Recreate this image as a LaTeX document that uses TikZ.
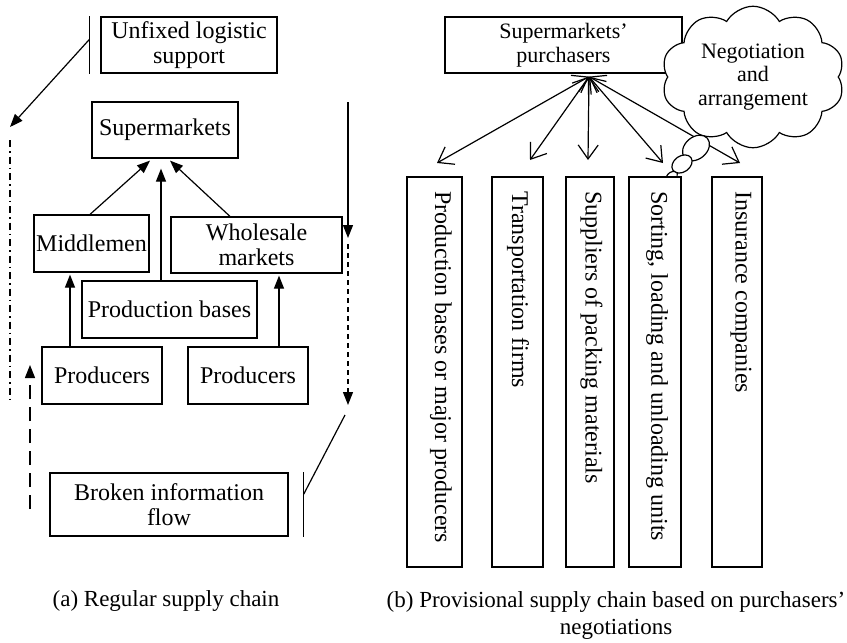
\documentclass[tikz,border=0pt]{standalone}
\usepackage{fontspec}
\setmainfont{Liberation Serif}
\usetikzlibrary{arrows.meta,shapes.symbols,shapes.geometric,calc}

\begin{document}
\begin{tikzpicture}[x=1pt,y=-1pt,
  every node/.style={inner sep=0pt},
  box/.style={draw, line width=1.2pt, fill=white, align=center,
    font=\fontsize{24}{25}\selectfont},
  smalltext/.style={font=\fontsize{22}{23.5}\selectfont},
  plain/.style={line width=1.2pt},
  flow/.style={line width=1.2pt, -{Triangle[length=13pt,width=10pt]}},
  link/.style={line width=1.2pt,
    {Straight Barb[length=14pt,width=20pt]}-{Straight Barb[length=14pt,width=20pt]}},
  vtext/.style={rotate=-90, anchor=west, font=\fontsize{24}{26}\selectfont},
  captiontext/.style={align=center, font=\fontsize{23}{27}\selectfont},
  bubble/.style={draw, ellipse, line width=1.2pt, fill=white}
]
\useasboundingbox (0,0) rectangle (847,643);

% ---------------- (a) regular supply chain ----------------
\node[box, minimum width=176pt, minimum height=56pt] (unfixed) at (189,45) {Unfixed logistic\\support};
\node[box, minimum width=146pt, minimum height=56pt] (super) at (165,130) {Supermarkets};
\node[box, minimum width=115pt, minimum height=57pt] (middle) at (91.5,243.5) {Middlemen};
\node[box, minimum width=171pt, minimum height=56pt] (whole) at (256.5,245) {Wholesale\\markets};
\node[box, minimum width=175pt, minimum height=57pt] (pbases) at (169.5,309.5) {Production bases};
\node[box, minimum width=120pt, minimum height=57pt] (prodL) at (102,375.5) {Producers};
\node[box, minimum width=120pt, minimum height=57pt] (prodR) at (248,375.5) {Producers};
\node[box, minimum width=238pt, minimum height=63pt] (broken) at (169,504.5) {Broken information\\flow};

% product flows towards the supermarkets
\draw[flow] ($(middle.north)+(-1.5,0)$) -- ($(super.south)+(-15,2)$);
\draw[flow] ($(pbases.north)+(-8.5,0)$) -- ($(super.south)+(-4,10)$);
\draw[flow] ($(whole.north)+(-26.5,0)$) -- ($(super.south)+(5,2)$);
\draw[flow] ($(prodL.north)+(-32,0)$) -- ($(middle.south)+(-21.5,2)$);
\draw[flow] ($(prodR.north)+(31,0)$) -- ($(whole.south)+(22.5,2)$);

% logistic support bracket and its dash-dotted return line
\coordinate (barAtop) at ($(unfixed.north west)+(-11,0)$);
\coordinate (barAbot) at ($(unfixed.south west)+(-11,0)$);
\coordinate (barAmid) at ($(unfixed.north west)+(-11,23)$);
\coordinate (logEnd) at (10,127);
\coordinate (logTop) at (10,140);
\coordinate (logBot) at (10,403);
\draw[plain] (barAtop) -- (barAbot);
\draw[flow] (barAmid) -- (logEnd);
\draw[plain, dash pattern=on 7pt off 4pt on 1.5pt off 4pt] (logTop) -- (logBot);

% information flow down the right side, then broken
\coordinate (infoTop) at (348,102);
\coordinate (infoMid) at (348,238);
\coordinate (infoDash) at (348,244);
\coordinate (infoLow) at (348,405);
\coordinate (infoKink) at (345,415);
\coordinate (barBtop) at ($(broken.north east)+(15,0)$);
\coordinate (barBbot) at ($(broken.south east)+(15,0)$);
\coordinate (barBmid) at ($(broken.north east)+(15,22)$);
\draw[flow] (infoTop) -- (infoMid);
\draw[flow, dash pattern=on 5pt off 4pt] (infoDash) -- (infoLow);
\draw[plain] (infoKink) -- (barBmid);
\draw[plain] (barBtop) -- (barBbot);

% dashed return towards the producers
\coordinate (retLow) at (30,509);
\coordinate (retHigh) at (30,365);
\draw[flow, dash pattern=on 14pt off 8pt] (retLow) -- (retHigh);

\node[captiontext] (capA) at (166,601) {(a) Regular supply chain};

% ---------------- (b) provisional supply chain ----------------
\node[box, smalltext, minimum width=237pt, minimum height=56pt] (purch) at (563.5,45) {Supermarkets'\\purchasers};
\node[draw, cloud, cloud puffs=10, cloud puff arc=120, aspect=1.3,
  line width=1.2pt, fill=white, minimum width=183pt, minimum height=139pt,
  smalltext, align=center] (cloud) at (753,77) {Negotiation\\and\\arrangement};

\coordinate (hub) at ($(purch.south)+(25.5,3)$);
\coordinate (t1) at (437,163);
\coordinate (t2) at (530,160);
\coordinate (t3) at (588,160);
\coordinate (t4) at (663,163);
\coordinate (t5) at (740,163);
\foreach \t in {t1,t2,t3,t4,t5}
  \draw[link] (hub) -- (\t);

\node[bubble, minimum width=30pt, minimum height=22pt, rotate=40] (bub1) at (696,148) {};
\node[bubble, minimum width=22pt, minimum height=16pt, rotate=35] (bub2) at (682,164) {};
\node[bubble, minimum width=12pt, minimum height=8pt, rotate=30] (bub3) at (672,176) {};

\node[box, minimum width=55pt, minimum height=390pt] (v1) at (434.5,372) {};
\node[box, minimum width=51pt, minimum height=390pt] (v2) at (517.5,372) {};
\node[box, minimum width=48pt, minimum height=390pt] (v3) at (590,372) {};
\node[box, minimum width=52pt, minimum height=390pt] (v4) at (655,372) {};
\node[box, minimum width=50pt, minimum height=390pt] (v5) at (737,372) {};

\node[vtext] (v1t) at (441,191) {Production bases or major producers};
\node[vtext] (v2t) at (518,191) {Transportation firms};
\node[vtext] (v3t) at (591.5,191) {Suppliers of packing materials};
\node[vtext] (v4t) at (657,191) {Sorting, loading and unloading units};
\node[vtext] (v5t) at (741,191) {Insurance companies};

\node[captiontext] (capB) at (616,615) {(b) Provisional supply chain based on purchasers'\\negotiations};
\end{tikzpicture}
\end{document}
